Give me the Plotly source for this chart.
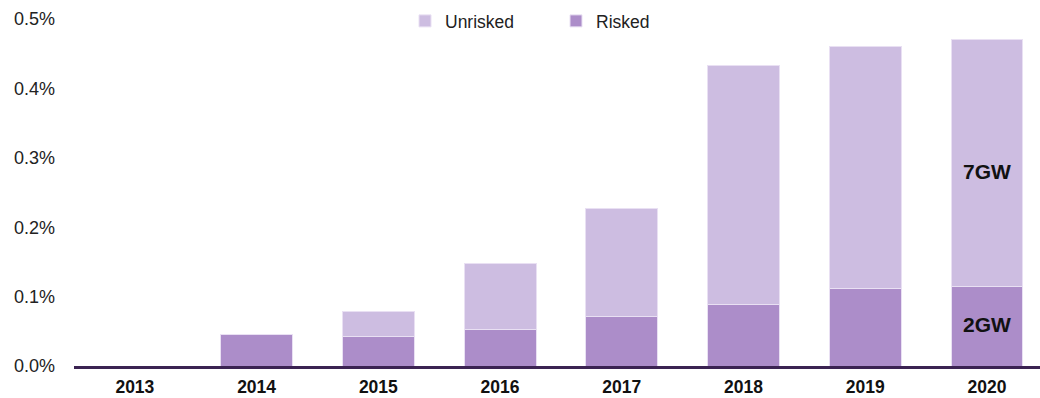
import plotly.graph_objects as go

# Share of generation (%), by year
years = ["2013", "2014", "2015", "2016", "2017", "2018", "2019", "2020"]
risked = [0.0, 0.046, 0.043, 0.053, 0.071, 0.088, 0.111, 0.114]
total = [0.0, 0.046, 0.079, 0.147, 0.227, 0.433, 0.461, 0.470]
unrisked = [round(t - r, 3) for t, r in zip(total, risked)]

risked_color = "#ac8dc9"
unrisked_color = "#cdbde1"
edge_color = "#e9e0f3"
axis_color = "#3b2352"
font_family = "Liberation Sans, Arial, Helvetica, sans-serif"

fig = go.Figure()
fig.add_trace(go.Bar(
    x=years, y=risked, name="Risked",
    marker=dict(color=risked_color, line=dict(color=edge_color, width=1)),
))
fig.add_trace(go.Bar(
    x=years, y=unrisked, name="Unrisked",
    marker=dict(color=unrisked_color, line=dict(color=edge_color, width=1)),
))

# Capacity callouts on the 2020 bar
fig.add_annotation(x=7, y=0.28, text="<b>7GW</b>", showarrow=False,
                   font=dict(size=21, color="#111111", family=font_family))
fig.add_annotation(x=7, y=0.06, text="<b>2GW</b>", showarrow=False,
                   font=dict(size=21, color="#111111", family=font_family))

fig.update_layout(
    width=1040, height=398,
    barmode="stack",
    bargap=0.41,
    plot_bgcolor="white",
    paper_bgcolor="white",
    margin=dict(l=74, r=0, t=19, b=31.5, pad=0, autoexpand=False),
    font=dict(family=font_family, size=17, color="#222222"),
    legend=dict(
        orientation="h", xref="container", yref="container",
        x=405 / 1040, xanchor="left", y=1 - 21 / 398, yanchor="middle",
        traceorder="reversed", font=dict(size=17.5, color="#222222"),
        entrywidth=106, entrywidthmode="pixels",
        itemwidth=30, bgcolor="rgba(0,0,0,0)",
    ),
    xaxis=dict(
        type="category",
        range=[-0.5, 7.435],
        showgrid=False, showline=True, linecolor=axis_color, linewidth=3,
        ticks="", tickfont=dict(size=17.5, color="#111111", family=font_family),
        tickprefix="<b>", ticksuffix="</b>",
        ticklabelstandoff=3,
    ),
    yaxis=dict(
        range=[0, 0.5], dtick=0.1, tickformat=".1f", ticksuffix="%",
        showgrid=False, zeroline=False, showline=False, ticks="",
        tickfont=dict(size=18, color="#222222"),
        ticklabelstandoff=18,
    ),
)

fig.write_html("out.html")
